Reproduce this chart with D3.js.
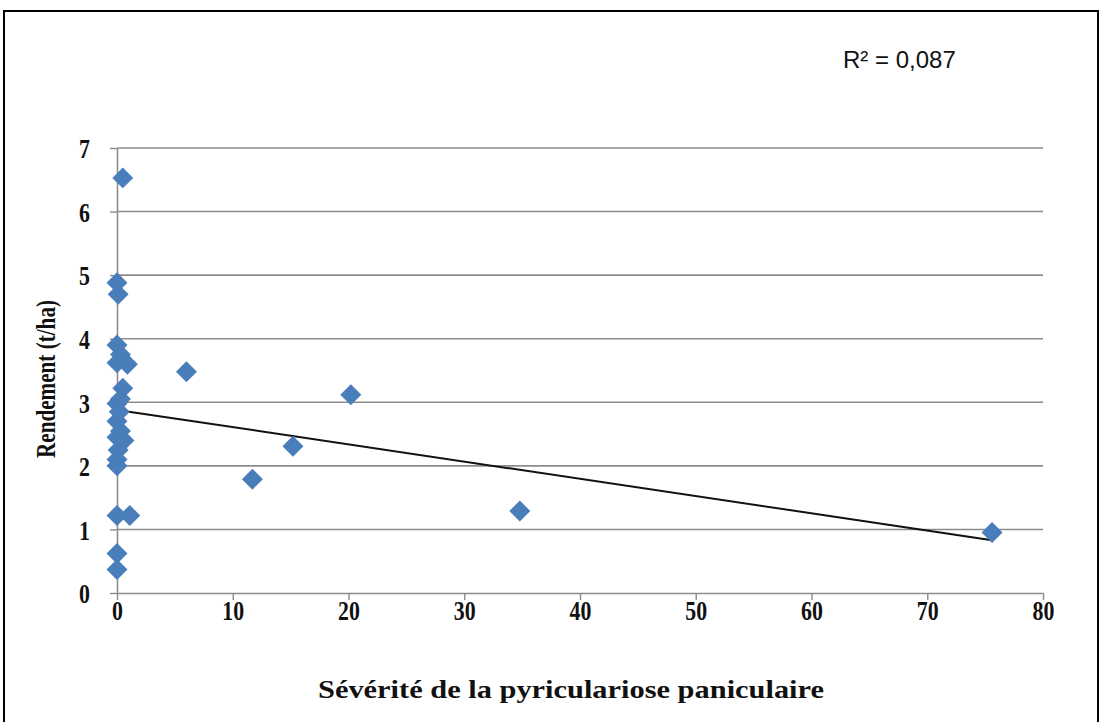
<!DOCTYPE html>
<html>
<head>
<meta charset="utf-8">
<script src="https://cdn.jsdelivr.net/npm/d3@7"></script>
<style>
  body { margin: 0; background: #fff; }
  svg { display: block; }
</style>
</head>
<body>
<script>
// severity (x) and yield (y)
var severite = [0.5, 0, 0.1, 0, 0.3, 0, 0.9, 6, 0.5, 0.3, 0, 0.2, 0, 0.3, 0, 0.6, 0.1, 0, 0,
                0, 1.1, 0, 0, 11.7, 15.2, 20.2, 34.8, 75.6];
var rendement = [6.53, 4.88, 4.7, 3.9, 3.75, 3.62, 3.6, 3.48, 3.22, 3.05, 2.98, 2.85, 2.7, 2.55, 2.45, 2.4, 2.25, 2.1, 2.0,
                 1.22, 1.22, 0.62, 0.37, 1.79, 2.31, 3.12, 1.29, 0.95];
var xTicks = [0, 10, 20, 30, 40, 50, 60, 70, 80];
var yTicks = [0, 1, 2, 3, 4, 5, 6, 7];
var trend = {intercept: 2.88, slope: -0.0271, xmin: 0, xmax: 75.6};
var r2Label = "R² = 0,087";

var data = severite.map(function(d, i) { return {x: d, y: rendement[i]}; });

var W = 1102, H = 722;
var margin = {top: 148, right: 59, bottom: 129, left: 117};
var width = W - margin.left - margin.right;
var height = H - margin.top - margin.bottom;
var serif = "'Liberation Serif', 'Times New Roman', serif";
var squeeze = 0.78;

var svg = d3.select("body").append("svg")
    .attr("width", W)
    .attr("height", H);

// outer frame
svg.append("rect")
    .attr("x", 4).attr("y", 11)
    .attr("width", 1094).attr("height", 730)
    .attr("fill", "none")
    .attr("stroke", "#000")
    .attr("stroke-width", 2);

var g = svg.append("g")
    .attr("transform", "translate(" + margin.left + "," + margin.top + ")");

var x = d3.scaleLinear().domain([0, 80]).range([0, width]);
var y = d3.scaleLinear().domain([0, 7]).range([height, 0]);

// horizontal gridlines
g.selectAll(".grid")
  .data(yTicks.slice(1))
  .enter().append("line")
  .attr("class", "grid")
  .attr("x1", 0).attr("x2", width)
  .attr("y1", function(d) { return y(d); })
  .attr("y2", function(d) { return y(d); })
  .attr("stroke", "#8c8c8c")
  .attr("stroke-width", 1.6);

var xAxis = g.append("g")
    .attr("transform", "translate(0," + height + ")")
    .call(d3.axisBottom(x).tickValues(xTicks).tickFormat(d3.format("d")).tickSize(7).tickSizeOuter(0));

var yAxis = g.append("g")
    .call(d3.axisLeft(y).tickValues(yTicks).tickFormat(d3.format("d")).tickSize(7).tickSizeOuter(0));

[xAxis, yAxis].forEach(function(a) {
  a.select(".domain").attr("stroke", "#8c8c8c").attr("stroke-width", 1.6);
  a.selectAll(".tick line").attr("stroke", "#8c8c8c").attr("stroke-width", 1.4);
  a.selectAll(".tick text")
    .attr("fill", "#111")
    .attr("transform", "scale(" + squeeze + ",1)")
    .style("font-family", serif)
    .style("font-weight", "bold")
    .style("font-size", "28px");
});
xAxis.selectAll(".tick text").attr("dy", "0").attr("y", 27);
yAxis.selectAll(".tick text").attr("x", -27 / squeeze).attr("dy", "0.35em");

// trendline
g.append("line")
    .attr("x1", x(trend.xmin))
    .attr("y1", y(trend.intercept + trend.slope * trend.xmin))
    .attr("x2", x(trend.xmax))
    .attr("y2", y(trend.intercept + trend.slope * trend.xmax))
    .attr("stroke", "#111")
    .attr("stroke-width", 2);

// points
g.selectAll(".dot")
  .data(data)
  .enter().append("path")
  .attr("class", "dot")
  .attr("d", d3.symbol().type(d3.symbolSquare).size(220))
  .attr("transform", function(d) { return "translate(" + x(d.x) + "," + y(d.y) + ") rotate(45)"; })
  .attr("fill", "#4a7ebb");

// axis titles
svg.append("text")
    .attr("x", 571).attr("y", 698)
    .attr("text-anchor", "middle")
    .attr("textLength", 506)
    .attr("lengthAdjust", "spacingAndGlyphs")
    .style("font-family", serif)
    .style("font-weight", "bold")
    .style("font-size", "26px")
    .attr("fill", "#111")
    .text("Sévérité de la pyriculariose paniculaire");

svg.append("text")
    .attr("transform", "translate(55,379) rotate(-90)")
    .attr("text-anchor", "middle")
    .attr("textLength", 158)
    .attr("lengthAdjust", "spacingAndGlyphs")
    .style("font-family", serif)
    .style("font-weight", "bold")
    .style("font-size", "27px")
    .attr("fill", "#111")
    .text("Rendement (t/ha)");

svg.append("text")
    .attr("x", 843).attr("y", 68)
    .style("font-family", "'Liberation Sans', Arial, sans-serif")
    .style("font-size", "24px")
    .attr("fill", "#111")
    .text(r2Label);
</script>
</body>
</html>
